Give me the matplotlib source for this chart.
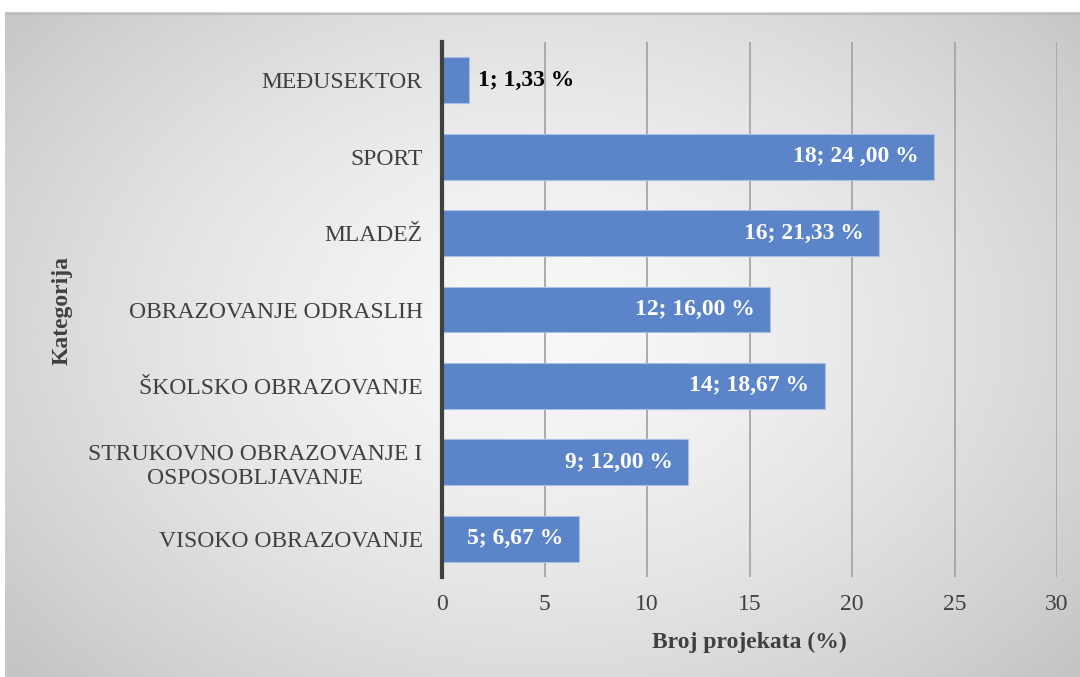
import matplotlib.pyplot as plt
import numpy as np

# Data (top to bottom as shown)
categories = ['MEĐUSEKTOR', 'SPORT', 'MLADEŽ', 'OBRAZOVANJE ODRASLIH',
              'ŠKOLSKO OBRAZOVANJE', 'STRUKOVNO OBRAZOVANJE I\nOSPOSOBLJAVANJE',
              'VISOKO OBRAZOVANJE']
counts = [1, 18, 16, 12, 14, 9, 5]
percents = [1.33, 24.00, 21.33, 16.00, 18.67, 12.00, 6.67]
labels = ['1; 1,33 %', '18; 24 ,00 %', '16; 21,33 %', '12; 16,00 %',
          '14; 18,67 %', '9; 12,00 %', '5; 6,67 %']
xticks = [0, 5, 10, 15, 20, 25, 30]

plt.rcParams['font.family'] = ['Liberation Serif', 'DejaVu Serif']
fs = 17

W, H = 1080, 677
fig = plt.figure(figsize=(W / 100, H / 100), dpi=100)
fig.patch.set_facecolor('white')

# Radial gradient background of the chart area
bg = fig.add_axes([5 / W, 0, 1 - 5 / W, 1 - 12 / H], zorder=0)
yy, xx = np.mgrid[-1:1:300j, -1:1:400j]
r = np.sqrt((xx * 0.95) ** 2 + ((yy + 0.05) * 0.8) ** 2)
g = 0.97 - 0.2 * np.clip(r / 1.25, 0, 1) ** 1.5
bg.imshow(g, cmap='gray', vmin=0, vmax=1, aspect='auto', interpolation='bicubic')
bg.set_axis_off()
bg.plot([0, 399], [0.5, 0.5], color='#bdbdbd', lw=1.5)
bg.set_xlim(-0.5, 399.5)
bg.set_ylim(299.5, -0.5)

ax = fig.add_axes([442 / W, 1 - 577 / H, (1057 - 442) / W, (577 - 42) / H], zorder=1)
ax.patch.set_alpha(0)

y = np.arange(len(categories))
ax.barh(y, percents, height=0.6, color='#5b84c9', edgecolor='#a9bfe6', linewidth=0.8, zorder=3)

for i, (p, lab) in enumerate(zip(percents, labels)):
    if p < 3:
        ax.text(p + 0.45, i, lab, ha='left', va='center', fontsize=fs,
                fontweight='bold', color='black', zorder=4)
    else:
        ax.text(p - 0.75, i, lab, ha='right', va='center', fontsize=fs,
                fontweight='bold', color='white', zorder=4)

ax.set_ylim(len(categories) - 0.5, -0.5)
ax.set_xlim(0, 30)
ax.set_xticks(xticks)
ax.set_yticks(y)
ax.set_yticklabels(categories, fontsize=fs, color='#404040', multialignment='center')
ax.tick_params(axis='x', labelsize=fs, labelcolor='#404040', length=0, pad=12)
ax.tick_params(axis='y', length=0, pad=14)

for xv in xticks[1:]:
    ax.axvline(xv, color='#a6a6a6', lw=1.3, zorder=1)

for s in ['top', 'right', 'bottom']:
    ax.spines[s].set_visible(False)
ax.spines['left'].set_color('#404040')
ax.spines['left'].set_linewidth(3)
ax.spines['left'].set_zorder(5)

ax.set_xlabel('Broj projekata (%)', fontsize=fs, fontweight='bold', color='#404040', labelpad=12)
fig.text(62 / W, 1 - 310 / H, 'Kategorija', rotation=90, ha='center', va='center',
         fontsize=fs, fontweight='bold', color='#404040')

fig.savefig('out.png', dpi=100)
